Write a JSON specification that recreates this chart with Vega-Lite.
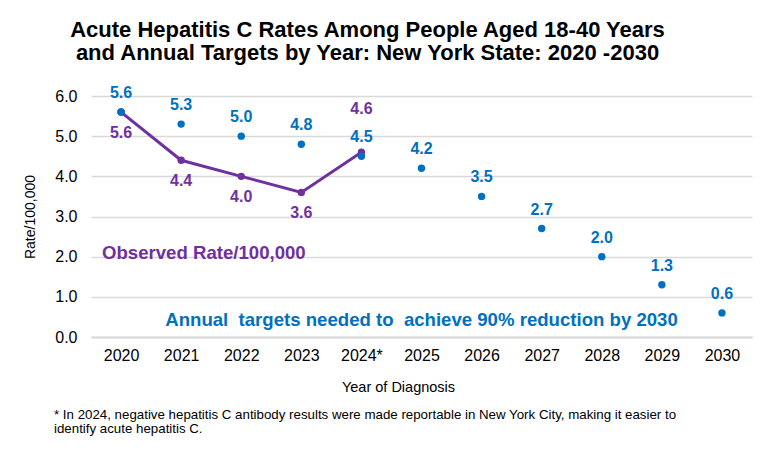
{
  "$schema": "https://vega.github.io/schema/vega-lite/v6.json",
  "background": "white",
  "padding": {"left": 23, "top": 19, "right": 10, "bottom": 5},
  "title": {
    "text": ["Acute Hepatitis C Rates Among People Aged 18-40 Years", "and Annual Targets by Year: New York State: 2020 -2030"],
    "font": "Liberation Sans",
    "fontSize": 22,
    "fontWeight": "bold",
    "color": "#000000",
    "lineHeight": 23,
    "anchor": "middle",
    "frame": "group",
    "offset": 20,
    "dx": -54
  },
  "datasets": {
    "observed": [
      {"year": "2020", "rate": 5.6},
      {"year": "2021", "rate": 4.4},
      {"year": "2022", "rate": 4.0},
      {"year": "2023", "rate": 3.6},
      {"year": "2024*", "rate": 4.6}
    ],
    "targets": [
      {"year": "2020", "rate": 5.6},
      {"year": "2021", "rate": 5.3},
      {"year": "2022", "rate": 5.0},
      {"year": "2023", "rate": 4.8},
      {"year": "2024*", "rate": 4.5},
      {"year": "2025", "rate": 4.2},
      {"year": "2026", "rate": 3.5},
      {"year": "2027", "rate": 2.7},
      {"year": "2028", "rate": 2.0},
      {"year": "2029", "rate": 1.3},
      {"year": "2030", "rate": 0.6}
    ],
    "series_notes": [
      {"series": "observed", "year": "2020", "rate": 2.1, "note": "Observed Rate/100,000"},
      {"series": "targets", "year": "2025", "rate": 0.42, "note": "Annual\u00a0 targets needed to\u00a0 achieve 90% reduction by 2030"}
    ]
  },
  "vconcat": [
    {
      "width": 661,
      "height": 241,
      "title": {
        "text": ["* In 2024, negative hepatitis C antibody results were made reportable in New York City, making it easier to", "identify acute hepatitis C."],
        "orient": "bottom",
        "anchor": "start",
        "frame": "group",
        "font": "Liberation Sans",
        "fontSize": 13.3,
        "fontWeight": "normal",
        "color": "#000000",
        "lineHeight": 14.5,
        "offset": 14,
        "dx": -37
      },
      "encoding": {
        "x": {
          "field": "year",
          "type": "ordinal",
          "sort": null,
          "scale": {"type": "point", "padding": 0.5, "domain": ["2020", "2021", "2022", "2023", "2024*", "2025", "2026", "2027", "2028", "2029", "2030"]},
          "axis": {
            "title": "Year of Diagnosis",
            "labelAngle": 0,
            "labelFontSize": 16,
            "labelPadding": 10,
            "titleFontSize": 14.5,
            "titleFontWeight": "normal",
            "titlePadding": 17,
            "titleX": 307,
            "ticks": false,
            "domain": true,
            "domainColor": "#d9d9d9",
            "domainWidth": 2,
            "grid": false
          }
        },
        "y": {
          "field": "rate",
          "type": "quantitative",
          "scale": {"domain": [0, 6], "nice": false, "zero": true},
          "axis": {
            "title": "Rate/100,000",
            "values": [0, 1, 2, 3, 4, 5, 6],
            "format": ".1f",
            "labelFontSize": 16,
            "labelPadding": 14,
            "titleFontSize": 14,
            "titleFontWeight": "normal",
            "titlePadding": 17,
            "ticks": false,
            "domain": false,
            "grid": true,
            "gridColor": "#d9d9d9",
            "gridWidth": 1.5
          }
        }
      },
      "layer": [
        {
          "data": {"name": "observed"},
          "mark": {"type": "line", "color": "#7030A0", "strokeWidth": 3, "point": {"filled": true, "size": 55, "color": "#7030A0"}}
        },
        {
          "data": {"name": "targets"},
          "mark": {"type": "point", "filled": true, "size": 55, "color": "#0070C0", "opacity": 1}
        },
        {
          "data": {"name": "targets"},
          "mark": {"type": "text", "font": "Liberation Sans", "fontSize": 16, "fontWeight": "bold", "color": "#0070C0", "baseline": "middle", "dy": -19},
          "encoding": {"text": {"field": "rate", "type": "quantitative", "format": ".1f"}}
        },
        {
          "data": {"name": "observed"},
          "transform": [{"filter": "datum.year !== '2024*'"}],
          "mark": {"type": "text", "font": "Liberation Sans", "fontSize": 16, "fontWeight": "bold", "color": "#7030A0", "baseline": "middle", "dy": 21},
          "encoding": {"text": {"field": "rate", "type": "quantitative", "format": ".1f"}}
        },
        {
          "data": {"name": "observed"},
          "transform": [{"filter": "datum.year === '2024*'"}],
          "mark": {"type": "text", "font": "Liberation Sans", "fontSize": 16, "fontWeight": "bold", "color": "#7030A0", "baseline": "middle", "dy": -43},
          "encoding": {"text": {"field": "rate", "type": "quantitative", "format": ".1f"}}
        },
        {
          "data": {"name": "series_notes"},
          "transform": [{"filter": "datum.series === 'observed'"}],
          "mark": {"type": "text", "font": "Liberation Sans", "fontSize": 18.6, "fontWeight": "bold", "color": "#7030A0", "align": "left", "baseline": "middle", "dx": -19},
          "encoding": {"text": {"field": "note", "type": "nominal"}}
        },
        {
          "data": {"name": "series_notes"},
          "transform": [{"filter": "datum.series === 'targets'"}],
          "mark": {"type": "text", "font": "Liberation Sans", "fontSize": 18.6, "fontWeight": "bold", "color": "#0070C0", "align": "center", "baseline": "middle"},
          "encoding": {"text": {"field": "note", "type": "nominal"}}
        }
      ]
    }
  ],
  "config": {
    "font": "Liberation Sans",
    "view": {"stroke": null},
    "axis": {"labelColor": "#000000", "titleColor": "#000000", "labelFont": "Liberation Sans", "titleFont": "Liberation Sans"}
  }
}
